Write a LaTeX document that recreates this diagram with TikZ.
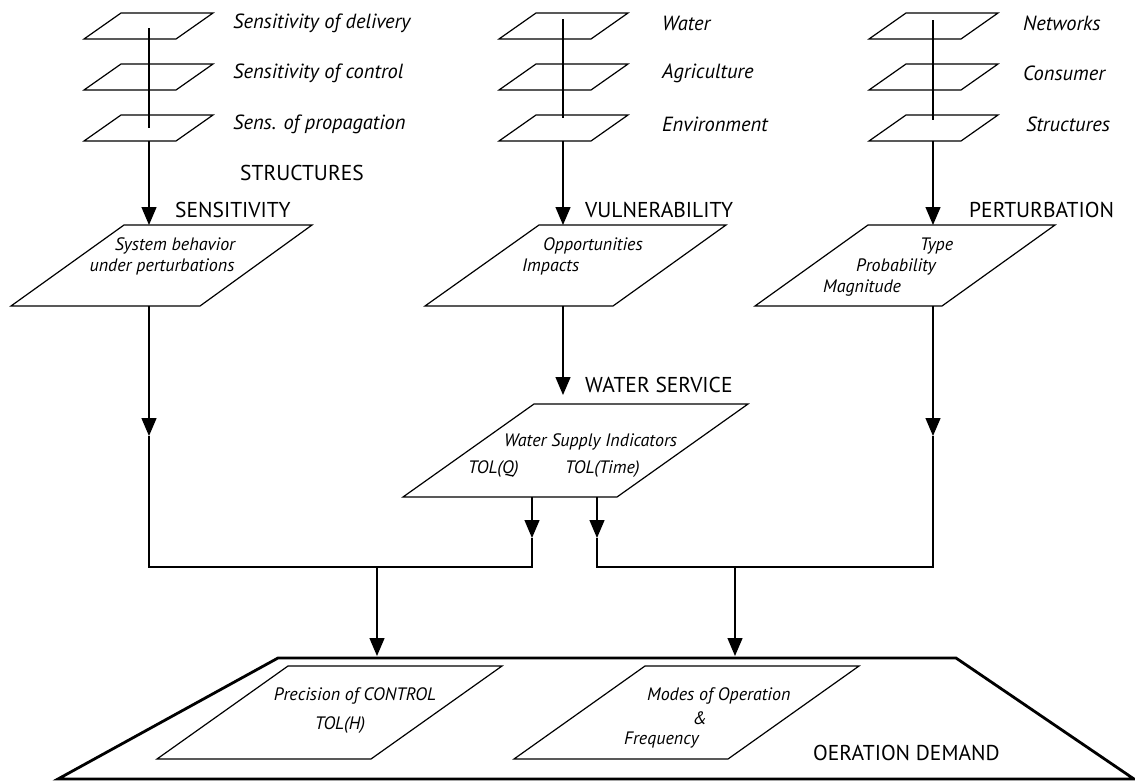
\documentclass[tikz,border=0pt]{standalone}
\usepackage{fontspec}
\setmainfont{PT Sans}
\usetikzlibrary{arrows.meta}
\begin{document}
\begin{tikzpicture}[x=1pt,y=-1pt,
  shp/.style={draw=black, line width=1.2pt, line join=miter},
  outer/.style={draw=black, line width=2.8pt, line join=miter},
  conn/.style={draw=black, line width=1.3pt},
  arr/.style={conn, -{Triangle[length=18pt,width=15pt]}},
  lbl/.style={font=\fontsize{20.5}{24}\selectfont\itshape, anchor=west, inner sep=0pt},
  caplbl/.style={font=\fontsize{21.5}{24}\selectfont, anchor=west, inner sep=0pt},
  inn/.style={font=\fontsize{18}{21}\selectfont\itshape, inner sep=0pt},
  innw/.style={inn, anchor=west}]
\useasboundingbox (0,0) rectangle (1135,780);

% ---------- small stacked parallelograms ----------
\foreach \x in {84,499,869}{
  \foreach \y in {39,90,141}{
    \draw[shp] (\x,\y) -- ++(92,0) -- ++(37,-26) -- ++(-92,0) -- cycle;
  }
}
% stems through the stacks
\coordinate (st1t) at (149,28);  \coordinate (st1b) at (149,128);
\coordinate (st2t) at (563,19);  \coordinate (st2b) at (563,118);
\coordinate (st3t) at (933,20);  \coordinate (st3b) at (933,120);
\draw[conn] (st1t) -- (st1b);
\draw[conn] (st2t) -- (st2b);
\draw[conn] (st3t) -- (st3b);

% stack labels
\node[lbl] (l11) at (233,23)  {Sensitivity of delivery};
\node[lbl] (l12) at (233,73)  {Sensitivity of control};
\node[lbl] (l13) at (233,124) {Sens. of propagation};
\node[lbl] (l21) at (662,23)  {Water};
\node[lbl] (l22) at (662,73)  {Agriculture};
\node[lbl] (l23) at (662,124) {Environment};
\node[lbl] (l31) at (1023,23)  {Networks};
\node[lbl] (l32) at (1023,73)  {Consumer};
\node[lbl] (l33) at (1026,124) {Structures};
\node[caplbl] (structures) at (240,173) {STRUCTURES};

% ---------- big parallelograms ----------
\draw[shp] (11,306) -- (200,306) -- (312,225) -- (124,225) -- cycle;
\draw[shp] (425,306) -- (613,306) -- (726,225) -- (539,225) -- cycle;
\draw[shp] (755,306) -- (942,306) -- (1055,225) -- (868,225) -- cycle;

\node[caplbl] (sens) at (175,210) {SENSITIVITY};
\node[caplbl] (vuln) at (585,210) {VULNERABILITY};
\node[caplbl] (pert) at (969,210) {PERTURBATION};

\node[inn] (sb1) at (175,246) {System behavior};
\node[inn] (sb2) at (162,267) {under perturbations};
\node[innw] (op1) at (543,246) {Opportunities};
\node[innw] (op2) at (522,267) {Impacts};
\node[innw] (ty1) at (920,246) {Type};
\node[innw] (ty2) at (856,267) {Probability};
\node[innw] (ty3) at (823,288) {Magnitude};

% arrows stacks -> big parallelograms
\coordinate (s1o) at (149,141); \coordinate (p1t) at (149,225);
\coordinate (s2o) at (563,141); \coordinate (p2t) at (563,225);
\coordinate (s3o) at (933,141); \coordinate (p3t) at (933,225);
\draw[arr] (s1o) -- (p1t);
\draw[arr] (s2o) -- (p2t);
\draw[arr] (s3o) -- (p3t);

% ---------- water service ----------
\draw[shp] (403,497) -- (617,497) -- (748,404) -- (534,404) -- cycle;
\node[caplbl] (ws) at (585,385) {WATER SERVICE};
\node[innw] (wsi) at (504,442) {Water Supply Indicators};
\node[innw] (tq) at (468,469) {TOL(Q)};
\node[innw] (tt) at (565,469) {TOL(Time)};

\coordinate (p2b) at (563,306); \coordinate (wst) at (563,395);
\draw[arr] (p2b) -- (wst);

% ---------- lower connectors ----------
\coordinate (p1b) at (149,306); \coordinate (m1) at (149,436);
\coordinate (c1) at (149,567);
\coordinate (p3b) at (933,306); \coordinate (m3) at (933,436);
\coordinate (c3) at (933,567);
\coordinate (wq) at (532,497); \coordinate (wqm) at (532,538); \coordinate (wqc) at (532,567);
\coordinate (wt) at (597,497); \coordinate (wtm) at (597,538); \coordinate (wtc) at (597,567);
\draw[arr] (p1b) -- (m1);
\draw[arr] (p3b) -- (m3);
\draw[arr] (wq) -- (wqm);
\draw[arr] (wt) -- (wtm);
\draw[conn] (m1) -- (c1) -- (wqc) -- (wqm);
\draw[conn] (m3) -- (c3) -- (wtc) -- (wtm);

\coordinate (d1s) at (377,568); \coordinate (d1e) at (377,656);
\coordinate (d2s) at (735,568); \coordinate (d2e) at (735,656);
\draw[arr] (d1s) -- (d1e);
\draw[arr] (d2s) -- (d2e);

% ---------- operation demand ----------
\draw[outer] (58,779) -- (278,658) -- (956,658) -- (1134,779) -- cycle;
\draw[shp] (157,759) -- (371,759) -- (502,666) -- (288,666) -- cycle;
\draw[shp] (514,759) -- (728,759) -- (859,666) -- (645,666) -- cycle;

\node[inn] (pc1) at (355,696) {Precision of CONTROL};
\node[inn] (pc2) at (340,725) {TOL(H)};
\node[innw] (mo1) at (647,696) {Modes of Operation};
\node[inn] (mo2) at (700,718) {\&};
\node[innw] (mo3) at (624,740) {Frequency};
\node[caplbl] (od) at (813,753) {OERATION DEMAND};
\end{tikzpicture}
\end{document}
